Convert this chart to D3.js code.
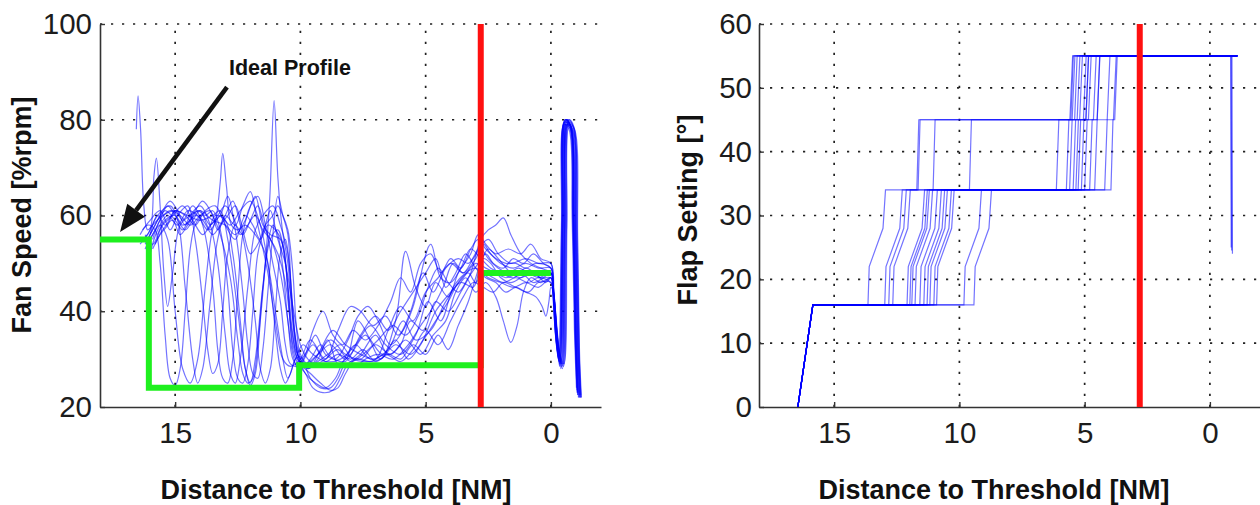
<!DOCTYPE html>
<html>
<head>
<meta charset="utf-8">
<script src="https://cdn.jsdelivr.net/npm/d3@7"></script>
<style>
  body { margin: 0; background: #fff; }
  svg { display: block; }
  text { font-family: "Liberation Sans", Arial, Helvetica, sans-serif; }
</style>
</head>
<body>
<svg id="chart" width="1260" height="505"></svg>
<script>
// ---- shared axis data ----
const distDomain = [18, -2];
const distTicks = [15, 10, 5, 0];
const fanTicks = [20, 40, 60, 80, 100];
const flapTicks = [0, 10, 20, 30, 40, 50, 60];
const thresholdMarker = 2.8;   // red marker, distance [NM]

// ---- ideal fan speed profile (distance, %rpm) ----
const idealDist = [18, 16.05, 16.05, 10.05, 10.05, 2.8, 2.8, 0];
const idealFan  = [55, 55, 24, 24, 28.7, 28.7, 48, 48];

// ---- recorded fan speed per flight: [distance NM, fan speed %rpm] ----
const fan01 = [[16.55,78],[16.48,85],[16.38,78],[16.25,62],[16.1,57],[15.9,58],[15.5,60],[15,61],[14.5,60],[14,59],[13.5,60],[13.2,61],[12.9,55],[12.5,40],[12.2,28],[12,25],[11.8,30],[11.5,45],[11.2,55],[10.9,57],[10.6,50],[10.3,35],[10.1,30],[9.8,29],[9.3,31],[8.8,33],[8.2,30],[7.7,38],[7.2,34],[6.7,31],[6.2,34],[5.7,30],[5.2,33],[4.6,40],[4,44],[3.5,47],[3,50],[2.6,49],[2.2,48],[1.8,47],[1.2,48],[0.7,46],[0.3,47],[0,48],
  [-0.1,44],[-0.25,33],[-0.38,28.5],[-0.5,58],[-0.6,80],[-0.8,78.5],[-0.93,58],[-1.02,34],[-1.1,22]];
const fan02 = [[16.3,55],[16,57],[15.85,68],[15.75,72],[15.6,62],[15.45,48],[15.3,41],[15.1,48],[14.8,58],[14.4,60],[14,61],[13.5,59],[13,58],[12.6,56],[12.2,59],[11.8,64],[11.5,58],[11.2,56],[10.8,55],[10.5,45],[10.3,33],[10,29],[9.6,28.5],[9.2,32],[8.7,36],[8.2,33],[7.6,31],[7,30],[6.5,36],[6,41],[5.5,38],[5,44],[4.5,47],[4,50],[3.5,48],[3,51],[2.7,54],[2.4,52],[2,50],[1.5,49],[1,50],[0.5,49],[0,49],
  [-0.1,45],[-0.27,34],[-0.42,29],[-0.54,57],[-0.64,79.5],[-0.84,78],[-0.97,57],[-1.06,33],[-1.14,22.5]];
const fan03 = [[16.2,53],[15.9,56],[15.6,58],[15.3,55],[15,40],[14.7,28],[14.4,25],[14.1,30],[13.8,45],[13.55,56],[13.35,60],[13.2,67],[13.1,73],[12.95,66],[12.75,58],[12.5,57],[12.2,58],[11.8,56],[11.4,52],[11,40],[10.7,30],[10.5,26],[10.2,30],[9.9,33],[9.5,31],[9,29.5],[8.4,30],[7.8,33],[7.2,37],[6.6,33],[6,31],[5.4,35],[4.9,42],[4.4,38],[3.9,45],[3.4,48],[3,49],[2.5,47],[2,46],[1.5,45],[1,46],[0.5,45],[0,47],
  [-0.08,44],[-0.21,34],[-0.34,29.5],[-0.46,59],[-0.56,80],[-0.76,79],[-0.89,59],[-0.98,35],[-1.06,23]];
const fan04 = [[16.1,55],[15.8,58],[15.4,61],[15,59],[14.7,57],[14.4,60],[14,62],[13.6,58],[13.3,50],[13,35],[12.8,27],[12.6,25],[12.4,30],[12.1,45],[11.8,57],[11.5,60],[11.1,62],[10.8,58],[10.5,52],[10.3,40],[10.1,31],[9.8,27],[9.4,25],[9,24],[8.6,26],[8.3,29.5],[7.8,33],[7.2,30],[6.5,32],[5.9,38],[5.4,34],[4.8,36],[4.2,42],[3.6,46],[3.1,45],[2.8,50],[2.5,53],[2.1,51],[1.6,48],[1.2,47],[0.7,48],[0.2,46],[0,47],
  [-0.12,43],[-0.31,32],[-0.46,28],[-0.58,58],[-0.68,79],[-0.88,78],[-1.01,56],[-1.1,32],[-1.18,22]];
const fan05 = [[16.4,54],[16.1,56],[15.7,60],[15.2,62],[14.9,59],[14.6,45],[14.3,30],[14.1,25],[13.9,28],[13.6,42],[13.3,55],[13,60],[12.6,58],[12.3,62],[12,65],[11.7,58],[11.3,48],[11,38],[10.7,30],[10.4,28.5],[10,30],[9.6,34],[9,30],[8.5,36],[8,41],[7.6,40],[7.1,37],[6.6,39],[6.1,35],[5.6,40],[5.1,48],[4.7,44],[4.2,49],[3.7,51],[3.3,50],[2.9,53],[2.5,55],[2.1,52],[1.6,50],[1,51],[0.5,50],[0,50],
  [-0.07,45],[-0.19,35],[-0.32,30],[-0.44,60],[-0.54,79.5],[-0.74,78.5],[-0.87,60],[-0.96,36],[-1.04,23.5]];
const fan06 = [[16,52],[15.7,57],[15.3,60],[14.9,58],[14.5,61],[14.1,60],[13.7,57],[13.4,60],[13,59],[12.7,52],[12.4,38],[12.2,28],[12,24.5],[11.8,27],[11.6,38],[11.4,50],[11.22,64],[11.05,84],[10.9,68],[10.72,57],[10.5,50],[10.3,38],[10.1,32],[9.9,29],[9.7,28],[9.3,30],[8.9,34],[8.5,29],[8,31],[7.4,35],[6.8,30],[6.2,38],[5.8,52.5],[5.4,45],[5,41],[4.6,46],[4.1,43],[3.7,48],[3.2,52],[2.9,56],[2.6,54],[2.2,52],[1.7,53],[1.2,52],[0.8,54],[0.4,51],[0,50],
  [-0.13,42],[-0.35,31],[-0.5,28.5],[-0.62,57],[-0.72,80],[-0.92,78.5],[-1.05,55],[-1.13,31],[-1.2,22]];
const fan07 = [[15.9,55],[15.6,59],[15.2,61],[14.8,60],[14.4,58],[14,60],[13.6,61],[13.3,57],[13,60],[12.7,63],[12.4,58],[12.1,50],[11.8,38],[11.6,28],[11.4,25],[11.2,28],[11,40],[10.8,52],[10.6,55],[10.4,47],[10.2,34],[10,29],[9.6,27],[9.2,25],[8.8,23.5],[8.5,24],[8.2,27],[7.8,30],[7.2,29.5],[6.6,31],[6,29.5],[5.5,32],[5,36],[4.5,33],[4,38],[3.5,43],[3.1,46],[2.7,45],[2.3,44],[1.9,46],[1.4,45],[0.9,44],[0.5,46],[0,46],
  [-0.09,44],[-0.23,33],[-0.36,29],[-0.48,58],[-0.58,79],[-0.78,78],[-0.91,58],[-1,34],[-1.08,22.5]];
const fan08 = [[16.2,56],[15.9,54],[15.5,58],[15.1,60],[14.7,62],[14.3,59],[13.9,56],[13.6,58],[13.2,60],[12.9,64],[12.6,57],[12.3,44],[12.1,33],[11.9,27],[11.7,26],[11.5,32],[11.3,44],[11.1,56],[10.9,64],[10.7,60],[10.5,56],[10.35,42],[10.2,33],[10,30],[9.7,32],[9.4,35],[9,31],[8.6,30],[8.1,34],[7.7,39],[7.3,41],[6.9,38],[6.4,33],[5.9,36],[5.5,41],[4.8,54],[4.4,47],[4,46],[3.6,49],[3.2,53],[2.8,51],[2.4,49],[2,48],[1.5,47],[1,49],[0.6,48],[0,48],
  [-0.11,44],[-0.29,32],[-0.44,28.5],[-0.56,59],[-0.66,80],[-0.86,79],[-0.99,57],[-1.08,33],[-1.16,22]];
const fan09 = [[16,56],[15.7,60],[15.4,58],[15,61],[14.6,60],[14.2,58],[13.8,61],[13.4,62],[13,58],[12.6,55],[12.2,60],[11.9,58],[11.6,55],[11.3,58],[11,57],[10.7,54],[10.5,44],[10.3,32],[10.1,29],[9.8,27],[9.5,24],[9.1,23],[8.7,23.5],[8.4,26],[8.1,29],[7.6,31],[7,35],[6.5,31],[6,33],[5.6,38],[5.1,36],[4.6,42],[4.1,40],[3.6,44],[3.2,48],[2.8,55],[2.5,57],[2.2,58],[1.9,59.5],[1.6,56],[1.2,52],[0.8,50],[0.4,49],[0,48],
  [-0.06,45],[-0.17,36],[-0.3,30],[-0.42,58],[-0.52,79],[-0.72,78],[-0.85,59],[-0.94,36],[-1.02,24]];
const fan10 = [[15.8,54],[15.5,57],[15.1,59],[14.8,56],[14.5,58],[14.2,60],[13.9,59],[13.5,56],[13.2,58],[12.9,60],[12.6,62],[12.3,57],[12,52],[11.7,54],[11.4,58],[11.1,60],[10.9,62],[10.7,60],[10.5,57],[10.3,48],[10.15,36],[10,31],[9.7,29],[9.3,31],[8.8,34],[8.2,31],[7.6,30],[7,33],[6.4,31],[5.8,34],[5.2,31],[4.7,35],[4.2,38],[3.8,44],[3.4,47],[3,44],[2.6,46],[2.2,43],[1.9,38],[1.6,33.5],[1.35,37],[1.1,44],[0.8,47],[0.4,46],[0,47],
  [-0.12,43],[-0.33,32],[-0.48,29],[-0.6,58],[-0.7,79.5],[-0.9,78.5],[-1.03,56],[-1.12,32],[-1.19,22.5]];
const fan11 = [[16.3,57],[16,59],[15.6,61],[15.2,57],[14.9,60],[14.5,62],[14.2,55],[13.9,42],[13.7,32],[13.5,27],[13.3,29],[13.1,40],[12.9,52],[12.6,58],[12.3,56],[12,59],[11.7,62],[11.4,57],[11.1,54],[10.8,48],[10.5,38],[10.3,30],[10,28],[9.6,30],[9.2,33],[8.8,30.5],[8.2,29.5],[7.6,35],[7,39],[6.5,36],[6,40],[5.5,44],[5,48],[4.6,51],[4.2,45],[3.8,48],[3.4,52],[3,49],[2.6,47],[2.2,46],[1.8,44],[1.4,45],[1,44],[0.6,43],[0.35,41],[0.2,39],[0.08,42],[0,45],
  [-0.1,44],[-0.27,33],[-0.4,28],[-0.52,57],[-0.62,80],[-0.82,78],[-0.95,57],[-1.04,33],[-1.12,22]];
const fan12 = [[15.7,56],[15.4,59],[15,60],[14.7,58],[14.4,59],[14.1,61],[13.8,60],[13.5,61],[13.2,57],[12.9,45],[12.7,32],[12.5,26],[12.3,25],[12.1,29],[11.9,40],[11.7,52],[11.4,58],[11.2,61],[10.9,55],[10.6,50],[10.4,44],[10.2,38],[10,33],[9.7,30],[9.4,29],[9,30],[8.5,32],[8,29.5],[7.5,31],[6.9,34],[6.3,37],[5.8,35],[5.3,39],[4.9,45],[4.5,49],[4.1,46],[3.7,44],[3.3,47],[2.9,50],[2.6,52],[2.3,50],[1.9,49],[1.5,51],[1.1,50],[0.7,52],[0.3,50],[0,49],
  [-0.08,45],[-0.2,34],[-0.33,29.5],[-0.45,59],[-0.55,79.5],[-0.75,79],[-0.88,60],[-0.97,35],[-1.05,23]];
const fan13 = [[16.4,56],[16.1,58],[15.8,57],[15.6,50],[15.4,35],[15.2,26],[15,24.5],[14.8,28],[14.6,40],[14.4,53],[14.2,58],[13.9,60],[13.6,58],[13.3,60],[13,62],[12.7,60],[12.4,56],[12.1,58],[11.8,60],[11.5,57],[11.2,55],[10.9,52],[10.6,46],[10.4,38],[10.2,32],[10,30],[9.7,28],[9.3,29.5],[8.9,31],[8.4,33],[7.9,30],[7.3,29.5],[6.8,30],[6.2,33],[5.6,31],[5.1,34],[4.6,38],[4.1,42],[3.7,46],[3.3,48],[3,46],[2.7,48],[2.3,47],[1.9,46],[1.4,47],[0.9,46],[0.5,47],[0,46],
  [-0.14,42],[-0.37,31],[-0.52,29],[-0.64,58],[-0.74,79],[-0.94,78],[-1.07,55],[-1.15,30],[-1.22,22]];
const fan14 = [[16,55],[15.7,58],[15.3,62],[15,60],[14.6,57],[14.3,59],[14,61],[13.6,57],[13.2,60],[12.8,58],[12.4,61],[12,63],[11.6,58],[11.3,50],[11,36],[10.8,28],[10.6,25],[10.4,27],[10.2,30],[10,30.5],[9.6,26],[9.2,24],[8.8,24],[8.5,26],[8.2,29],[7.8,28.5],[7.4,30],[6.9,31],[6.3,30],[5.7,33],[5.2,37],[4.8,40],[4.3,45],[3.9,50],[3.5,48],[3.1,51],[2.8,53],[2.5,51],[2.1,49],[1.7,48],[1.3,49],[0.9,48],[0.5,47],[0,48],
  [-0.09,44],[-0.22,34],[-0.35,28.5],[-0.47,58],[-0.57,80],[-0.77,78.5],[-0.9,58],[-0.99,34],[-1.07,22.5]];
const fan15 = [[15.9,53],[15.6,56],[15.3,58],[15,61],[14.7,59],[14.3,62],[13.9,58],[13.5,45],[13.3,32],[13.1,26],[12.9,25],[12.7,30],[12.5,44],[12.3,56],[12,62],[11.7,64],[11.4,58],[11.1,50],[10.8,42],[10.6,33],[10.4,29],[10.1,28.5],[9.8,31],[9.5,36],[9.1,40],[8.7,35],[8.3,33],[7.9,36],[7.4,34],[6.9,37],[6.4,42],[6,47],[5.6,44],[5.2,50],[4.8,52],[4.4,48],[4,51],[3.6,49],[3.2,53],[2.9,55],[2.6,53],[2.2,51],[1.8,50],[1.4,50],[1,49],[0.6,50],[0,49],
  [-0.11,44],[-0.28,33],[-0.43,29],[-0.55,58],[-0.65,79],[-0.85,78],[-0.98,57],[-1.07,33],[-1.15,22]];
const fan16 = [[16.2,54],[15.9,57],[15.5,61],[15.2,63],[14.9,61],[14.6,58],[14.2,61],[13.9,63],[13.5,60],[13.2,56],[12.8,47],[12.5,34],[12.3,27],[12.1,25],[11.9,26],[11.7,33],[11.5,45],[11.3,54],[11.1,58],[10.9,56],[10.7,49],[10.5,38],[10.3,31],[10.1,28],[9.9,29.5],[9.5,33],[9,29.5],[8.5,31],[8,30],[7.5,32],[7,29.5],[6.5,31],[6,30],[5.5,33],[5,31],[4.5,35],[4.1,32],[3.7,37],[3.3,42],[3,47],[2.7,51],[2.4,50],[2,47],[1.6,46],[1.2,47],[0.8,48],[0.4,47],[0,47],
  [-0.1,45],[-0.24,34],[-0.37,29],[-0.49,59],[-0.59,80],[-0.79,79],[-0.92,59],[-1.01,35],[-1.09,23]];
const fanFlights = [fan01, fan02, fan03, fan04, fan05, fan06, fan07, fan08,
                    fan09, fan10, fan11, fan12, fan13, fan14, fan15, fan16];

// ---- flap setting per flight: [distance NM, flap deg] ----
const flap01 = [[16.45,0],[15.85,16],[13.65,16],[13.6,22],[13.05,28],[12.95,34],[11.7,34],[11.62,45],[5.55,45],[5.45,55],[-1.1,55]];
const flap02 = [[16.45,0],[15.85,16],[12.98,16],[12.93,22],[12.38,28],[12.28,34],[11.65,34],[11.57,45],[5.4,45],[5.3,55],[-1.1,55]];
const flap03 = [[16.45,0],[15.85,16],[12.82,16],[12.77,22],[12.22,28],[12.12,34],[11.05,34],[10.97,45],[4.5,45],[4.4,55],[-1.1,55]];
const flap04 = [[16.45,0],[15.85,16],[10.91,16],[10.86,22],[10.31,28],[10.21,34],[9.6,34],[9.52,45],[4.95,45],[4.85,55],[-0.85,55],[-0.87,24.5]];
const flap05 = [[16.45,0],[15.85,16],[12.66,16],[12.61,22],[12.06,28],[11.96,34],[6.13,34],[6.03,45],[5.59,45],[5.48,55],[-1.1,55]];
const flap06 = [[16.45,0],[15.85,16],[12.09,16],[12.04,22],[11.49,28],[11.39,34],[5.73,34],[5.63,45],[5.5,45],[5.39,55],[-1.1,55]];
const flap07 = [[16.45,0],[15.85,16],[11.98,16],[11.93,22],[11.38,28],[11.28,34],[5.6,34],[5.5,45],[5.3,45],[5.19,55],[-1.1,55]];
const flap08 = [[16.45,0],[15.85,16],[11.9,16],[11.85,22],[11.3,28],[11.2,34],[5.46,34],[5.36,45],[5.2,45],[5.09,55],[-0.88,55],[-0.9,24]];
const flap09 = [[16.45,0],[15.85,16],[11.77,16],[11.72,22],[11.17,28],[11.07,34],[5.35,34],[5.25,45],[5.05,45],[4.94,55],[-1.1,55]];
const flap10 = [[16.45,0],[15.85,16],[11.58,16],[11.53,22],[10.98,28],[10.88,34],[5.26,34],[5.16,45],[4.95,45],[4.84,55],[-1.1,55]];
const flap11 = [[16.45,0],[15.85,16],[11.42,16],[11.37,22],[10.82,28],[10.72,34],[5.13,34],[5.03,45],[4.85,45],[4.74,55],[-1.1,55]];
const flap12 = [[16.45,0],[15.85,16],[11.29,16],[11.24,22],[10.69,28],[10.59,34],[5,34],[4.9,45],[4.65,45],[4.54,55],[-1.1,55]];
const flap13 = [[16.45,0],[15.85,16],[11.18,16],[11.13,22],[10.58,28],[10.48,34],[4.8,34],[4.7,45],[4.5,45],[4.39,55],[-0.83,55],[-0.85,25]];
const flap14 = [[16.45,0],[15.85,16],[11.02,16],[10.97,22],[10.42,28],[10.32,34],[4.6,34],[4.5,45],[4.1,45],[3.99,55],[-1.1,55]];
const flap15 = [[16.45,0],[15.85,16],[9.82,16],[9.77,22],[9.22,28],[9.12,34],[4.2,34],[4.1,45],[3.85,45],[3.74,55],[-1.1,55]];
const flap16 = [[16.45,0],[15.85,16],[9.42,16],[9.37,22],[8.82,28],[8.72,34],[3.95,34],[3.87,45],[3.8,45],[3.7,55],[-1.1,55]];
const flapFlights = [flap01, flap02, flap03, flap04, flap05, flap06, flap07, flap08,
                     flap09, flap10, flap11, flap12, flap13, flap14, flap15, flap16];

// ---- annotation (data coordinates of the left panel) ----
const noteText = "Ideal Profile";
const notePos = [12.85, 89.3];
const arrowFrom = [12.93, 86.8];
const arrowTo = [17.2, 56.55];

// ---------------------------------------------------------------
const svg = d3.select("#chart");
const Y_TOP = 24, Y_BOT = 407;
const TRACE_COLOR = "#0000ff";

function drawPanel(opt) {
  const g = svg.append("g");
  const x = d3.scaleLinear().domain(distDomain).range([opt.left, opt.right]);
  const y = d3.scaleLinear().domain(opt.yDomain).range([Y_BOT, Y_TOP]);

  // dotted grid
  const grid = g.append("g").attr("stroke", "#222").attr("stroke-width", 1.7)
    .attr("stroke-dasharray", "2.2,8.8");
  grid.selectAll("line.h").data(opt.yTicks.slice(1)).join("line")
    .attr("x1", opt.left).attr("x2", opt.right)
    .attr("y1", d => y(d)).attr("y2", d => y(d));
  grid.selectAll("line.v").data(distTicks).join("line")
    .attr("x1", d => x(d)).attr("x2", d => x(d))
    .attr("y1", Y_BOT).attr("y2", Y_TOP);

  // axes (ticks pointing inward)
  const ax = g.append("g").attr("transform", `translate(0,${Y_BOT})`)
    .call(d3.axisBottom(x).tickValues(distTicks).tickSize(-5).tickSizeOuter(0).tickPadding(15));
  const ay = g.append("g").attr("transform", `translate(${opt.left},0)`)
    .call(d3.axisLeft(y).tickValues(opt.yTicks).tickSize(-5).tickSizeOuter(0).tickPadding(opt.yPad));
  [ax, ay].forEach(a => {
    a.select(".domain").attr("stroke", "#333").attr("stroke-width", 1.6);
    a.selectAll(".tick line").attr("stroke", "#333").attr("stroke-width", 1.4);
    a.selectAll(".tick text").attr("font-size", 29.5).attr("fill", "#1c1c1c")
      .attr("font-family", '"Liberation Sans", Arial, sans-serif');
  });

  const layers = {
    traces: g.append("g"),
    overlay: g.append("g")
  };

  // axis titles
  g.append("text")
    .attr("x", opt.xTitleX).attr("y", 499)
    .attr("text-anchor", "middle").attr("font-weight", "bold")
    .attr("font-size", 27).attr("fill", "#111")
    .text("Distance to Threshold [NM]");
  g.append("text")
    .attr("transform", `translate(${opt.yTitleX},${opt.yTitleY}) rotate(-90)`)
    .attr("text-anchor", "middle").attr("font-weight", "bold")
    .attr("font-size", 27).attr("fill", "#111")
    .text(opt.yTitle);

  return { g, x, y, layers };
}

// ---------------- left panel: fan speed ----------------
const fanPanel = drawPanel({
  left: 100, right: 601, yDomain: [20, 100], yTicks: fanTicks, yPad: 8,
  xTitleX: 336, yTitle: "Fan Speed [%rpm]", yTitleX: 31, yTitleY: 215
});
{
  const { x, y, layers } = fanPanel;
  const line = d3.line().x(d => x(d[0])).y(d => y(d[1]))
    .curve(d3.curveCatmullRom.alpha(0.5));
  layers.traces.selectAll("path").data(fanFlights).join("path")
    .attr("d", line).attr("fill", "none")
    .attr("stroke", TRACE_COLOR).attr("stroke-opacity", 0.55).attr("stroke-width", 1.2);

  const ideal = idealDist.map((d, i) => [d, idealFan[i]]);
  layers.overlay.append("path")
    .attr("d", d3.line().x(d => x(d[0])).y(d => y(d[1]))(ideal))
    .attr("fill", "none").attr("stroke", "#1ef01e").attr("stroke-width", 6)
    .attr("stroke-linejoin", "miter");

  layers.overlay.append("line")
    .attr("x1", x(thresholdMarker)).attr("x2", x(thresholdMarker))
    .attr("y1", Y_BOT).attr("y2", Y_TOP)
    .attr("stroke", "#ff1010").attr("stroke-width", 6);

  // annotation arrow
  const x0 = x(arrowFrom[0]), y0 = y(arrowFrom[1]);
  const x1 = x(arrowTo[0]), y1 = y(arrowTo[1]);
  const ang = Math.atan2(y1 - y0, x1 - x0);
  const headLen = 27, headHalf = 11;
  const bx = x1 - headLen * Math.cos(ang), by = y1 - headLen * Math.sin(ang);
  layers.overlay.append("line")
    .attr("x1", x0).attr("y1", y0).attr("x2", bx).attr("y2", by)
    .attr("stroke", "#111").attr("stroke-width", 4.5);
  layers.overlay.append("path")
    .attr("d", `M${x1},${y1}L${bx + headHalf * Math.sin(ang)},${by - headHalf * Math.cos(ang)}L${bx - headHalf * Math.sin(ang)},${by + headHalf * Math.cos(ang)}Z`)
    .attr("fill", "#111");
  layers.overlay.append("text")
    .attr("x", x(notePos[0])).attr("y", y(notePos[1]))
    .attr("font-size", 21.5).attr("font-weight", "bold").attr("fill", "#111")
    .text(noteText);
}

// ---------------- right panel: flap setting ----------------
const flapPanel = drawPanel({
  left: 759, right: 1260, yDomain: [0, 60], yTicks: flapTicks, yPad: 7,
  xTitleX: 994, yTitle: "Flap Setting [°]", yTitleX: 697, yTitleY: 210
});
{
  const { x, y, layers } = flapPanel;
  const line = d3.line().x(d => x(d[0])).y(d => y(d[1]));
  layers.traces.selectAll("path").data(flapFlights).join("path")
    .attr("d", line).attr("fill", "none")
    .attr("stroke", TRACE_COLOR).attr("stroke-opacity", 0.55).attr("stroke-width", 1.2);

  layers.overlay.append("line")
    .attr("x1", x(thresholdMarker)).attr("x2", x(thresholdMarker))
    .attr("y1", Y_BOT).attr("y2", Y_TOP)
    .attr("stroke", "#ff1010").attr("stroke-width", 6);
}
</script>
</body>
</html>
